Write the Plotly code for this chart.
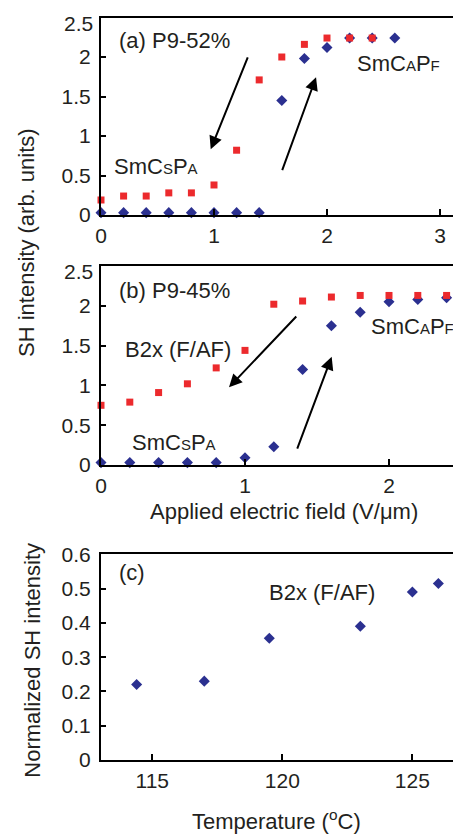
import plotly.graph_objects as go

# ---------------- data ----------------
# (a) P9-52%
a_field_red = [0.0, 0.2, 0.4, 0.6, 0.8, 1.0, 1.2, 1.4, 1.6, 1.8, 2.0, 2.2, 2.4]
a_sh_red = [0.19, 0.24, 0.24, 0.28, 0.28, 0.38, 0.82, 1.71, 2.0, 2.16, 2.24, 2.24, 2.24]
a_field_blue = [0.0, 0.2, 0.4, 0.6, 0.8, 1.0, 1.2, 1.4, 1.6, 1.8, 2.0, 2.2, 2.4, 2.6]
a_sh_blue = [0.03, 0.03, 0.03, 0.03, 0.03, 0.03, 0.03, 0.03, 1.45, 1.98, 2.12, 2.24, 2.24, 2.24]

# (b) P9-45%
b_field_red = [0.0, 0.2, 0.4, 0.6, 0.8, 1.0, 1.2, 1.4, 1.6, 1.8, 2.0, 2.2, 2.4]
b_sh_red = [0.75, 0.79, 0.91, 1.02, 1.22, 1.44, 2.02, 2.06, 2.11, 2.13, 2.13, 2.13, 2.13]
b_field_blue = [0.0, 0.2, 0.4, 0.6, 0.8, 1.0, 1.2, 1.4, 1.6, 1.8, 2.0, 2.2, 2.4]
b_sh_blue = [0.03, 0.03, 0.03, 0.03, 0.03, 0.09, 0.23, 1.2, 1.75, 1.92, 2.05, 2.08, 2.1]

# (c) normalized SH vs temperature
c_temp = [114.4, 117.0, 119.5, 123.0, 125.0, 126.0]
c_sh = [0.22, 0.23, 0.355, 0.39, 0.49, 0.515]

# tick values
ab_yticks = [0, 0.5, 1, 1.5, 2, 2.5]
ab_yticktext = ["0", "0.5", "1", "1.5", "2", ""]   # top label drawn separately (nudged down)
ab_top_label = "2.5"
a_xticks = [0, 1, 2, 3]
b_xticks = [0, 1, 2]
c_xticks = [115, 120, 125]
c_yticks = [0, 0.1, 0.2, 0.3, 0.4, 0.5, 0.6]

# arrows: (x_tail, y_tail, x_head, y_head) in data coords
a_arrows = [(1.304, 2.013, 0.971, 0.832), (1.599, 0.548, 1.903, 1.743)]
b_arrows = [(1.366, 1.884, 0.889, 0.976), (1.359, 0.188, 1.602, 1.36)]

RED = "#ec2a2d"
BLUE = "#2b3090"
FONT = "Liberation Sans, Arial, Helvetica, sans-serif"
TXT = "#231f20"

# page body has an 8px margin; figure sized so it ends at the window edge
OFF = 8
PW, PH = 461, 835
W, H = PW - OFF, PH - OFF


def px(xp):
    return (xp - OFF) / W


def py(yp):
    return 1 - (yp - OFF) / H


def ydom(top_px, bot_px):
    return [py(bot_px), py(top_px)]


fig = go.Figure()

sq = dict(symbol="square", size=7, color=RED)
dm = dict(symbol="diamond", size=8.5, color=BLUE)

fig.add_trace(go.Scatter(x=a_field_blue, y=a_sh_blue, mode="markers", marker=dm,
                         xaxis="x", yaxis="y", cliponaxis=False))
fig.add_trace(go.Scatter(x=a_field_red, y=a_sh_red, mode="markers", marker=sq,
                         xaxis="x", yaxis="y", cliponaxis=False))
fig.add_trace(go.Scatter(x=b_field_blue, y=b_sh_blue, mode="markers", marker=dm,
                         xaxis="x2", yaxis="y2", cliponaxis=False))
fig.add_trace(go.Scatter(x=b_field_red, y=b_sh_red, mode="markers", marker=sq,
                         xaxis="x2", yaxis="y2", cliponaxis=False))
fig.add_trace(go.Scatter(x=c_temp, y=c_sh, mode="markers", marker=dm,
                         xaxis="x3", yaxis="y3", cliponaxis=False))

xdom = [px(101), 1.0]
common_x = dict(showline=True, linewidth=2, linecolor="black", mirror=True,
                ticks="inside", ticklen=6, tickwidth=1.5, tickcolor="black",
                showgrid=False, zeroline=False, tickfont=dict(size=21, color=TXT, family=FONT),
                domain=xdom, ticklabelstandoff=1, automargin=False, ticklabeloverflow="allow")
common_y = dict(showline=True, linewidth=2, linecolor="black", mirror=False,
                ticks="inside", ticklen=5, tickwidth=1.5, tickcolor="black",
                showgrid=False, zeroline=False, tickfont=dict(size=21, color=TXT, family=FONT),
                ticklabelstandoff=4, automargin=False, ticklabeloverflow="allow")

fig.update_layout(
    width=W, height=H, margin=dict(l=0, r=0, t=0, b=0, autoexpand=False),
    paper_bgcolor="white", plot_bgcolor="white", showlegend=False,
    font=dict(family=FONT, color=TXT),
    xaxis=dict(common_x, range=[0, 360 / 113], tickvals=a_xticks, anchor="y"),
    yaxis=dict(common_y, range=[0, 2.5], tickvals=ab_yticks, ticktext=ab_yticktext,
               domain=ydom(17.5, 215), anchor="x"),
    xaxis2=dict(common_x, range=[0, 2.5], tickvals=b_xticks, anchor="y2"),
    yaxis2=dict(common_y, range=[0, 2.5], tickvals=ab_yticks, ticktext=ab_yticktext,
                domain=ydom(266, 465), anchor="x2"),
    xaxis3=dict(common_x, range=[113.03, 126.87], tickvals=c_xticks, anchor="y3"),
    yaxis3=dict(common_y, range=[0, 0.6], tickvals=c_yticks, domain=ydom(554.3, 760), anchor="x3"),
)

ann = []
fs = 22
small = 15


def smc(sub1, sub2):
    return ("SmC<span style='font-size:%dpx'>%s</span>P<span style='font-size:%dpx'>%s</span>"
            % (small, sub1, small, sub2))


def txt(x, y, text, xr, yr):
    ann.append(dict(x=x, y=y, xref=xr, yref=yr, text=text, showarrow=False,
                    xanchor="left", yanchor="middle", font=dict(size=fs, color=TXT, family=FONT)))


# top y tick labels of (a) and (b), nudged down as in the original
for yr in ["y", "y2"]:
    ann.append(dict(x=px(95), y=ab_yticks[-1], xref="paper", yref=yr, text=ab_top_label,
                    showarrow=False, xanchor="right", yanchor="middle", yshift=-6,
                    font=dict(size=21, color=TXT, family=FONT)))

# panel (a)
txt(0.142, 2.215, "(a) P9-52%", "x", "y")
txt(2.248, 1.92, smc("A", "F"), "x", "y")
txt(0.097, 0.611, smc("S", "A"), "x", "y")
# panel (b)
txt(0.111, 2.198, "(b) P9-45%", "x2", "y2")
txt(0.153, 1.445, "B2x (F/AF)", "x2", "y2")
txt(0.201, 0.28, smc("S", "A"), "x2", "y2")
txt(1.861, 1.737, smc("A", "F"), "x2", "y2")
# panel (c)
txt(113.645, 0.5455, "(c)", "x3", "y3")
txt(119.41, 0.49, "B2x (F/AF)", "x3", "y3")

for arrows, xr, yr in [(a_arrows, "x", "y"), (b_arrows, "x2", "y2")]:
    for (xt, yt, xh, yh) in arrows:
        ann.append(dict(x=xh, y=yh, ax=xt, ay=yt, xref=xr, yref=yr, axref=xr, ayref=yr,
                        showarrow=True, arrowhead=2, arrowsize=1.3, arrowwidth=2,
                        arrowcolor="black", text=""))

# axis titles
ann.append(dict(x=px(26), y=py(243), xref="paper", yref="paper", showarrow=False,
                text="SH intensity (arb. units)", textangle=-90,
                font=dict(size=fs, color=TXT, family=FONT), xanchor="center", yanchor="middle"))
ann.append(dict(x=px(283.5), y=py(511.7), xref="paper", yref="paper", showarrow=False,
                text="Applied electric field (V/\u03bcm)",
                font=dict(size=fs, color=TXT, family=FONT), xanchor="center", yanchor="middle"))
ann.append(dict(x=px(31.7), y=py(660), xref="paper", yref="paper", showarrow=False,
                text="Normalized SH intensity", textangle=-90,
                font=dict(size=fs, color=TXT, family=FONT), xanchor="center", yanchor="middle"))
ann.append(dict(x=px(276.7), y=py(820), xref="paper", yref="paper", showarrow=False,
                text="Temperature (<sup>o</sup>C)",
                font=dict(size=fs, color=TXT, family=FONT), xanchor="center", yanchor="middle"))

fig.update_layout(annotations=ann)
fig.write_html("out.html")
